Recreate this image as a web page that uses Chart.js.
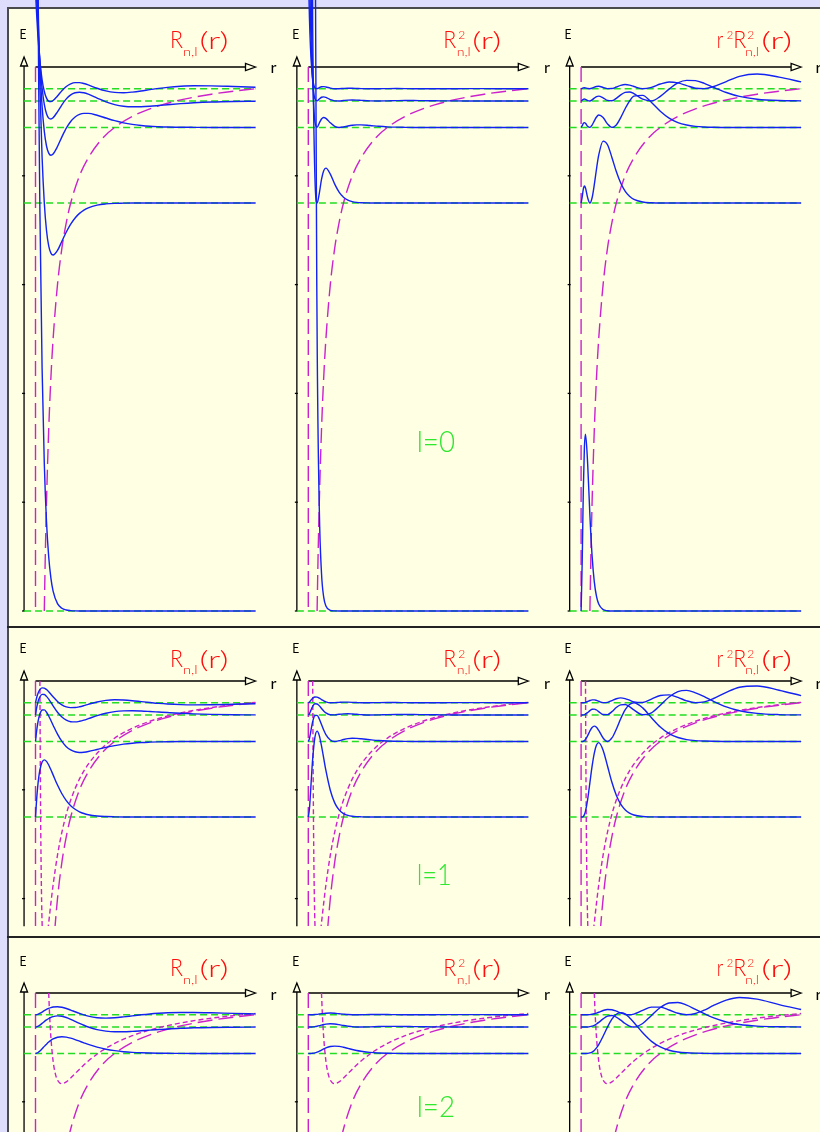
<!DOCTYPE html>
<html>
<head>
<meta charset="utf-8">
<script src="https://cdn.jsdelivr.net/npm/chart.js@4.4.1/dist/chart.umd.min.js"></script>
<style>
  html, body { margin: 0; padding: 0; }
  body { width: 820px; height: 1132px; position: relative; overflow: hidden; background: #dedefc; }
  #sheet { position: absolute; left: 7px; top: 7px; right: 0; bottom: 0; background: #ffffe3;
           border-left: 2px solid #4a4a4a; border-top: 2px solid #4a4a4a; }
  .rule { position: absolute; left: 7px; right: 0; height: 2px; background: #222; }
  canvas { position: absolute; left: 0; }
  svg { position: absolute; left: 0; top: 0; }
  svg text { font-family: Lato, 'DejaVu Sans', sans-serif; font-weight: 400; }
  svg text.thin { font-weight: 300; }
</style>
</head>
<body>
<div id="sheet"></div>
<canvas id="row0"></canvas>
<canvas id="row1"></canvas>
<canvas id="row2"></canvas>
<div class="rule" style="top:626px"></div>
<div class="rule" style="top:936px"></div>
<svg id="labels" width="820" height="1132"></svg>

<script>
// radius samples (Bohr radii), shared by every curve
const rGrid = [0, 0.25, 0.5, 0.75, 1, 1.5, 2, 2.5, 3, 3.5, 4, 5, 6, 7, 8, 9, 10, 11, 12, 14, 16, 18, 20, 22, 24, 26, 28, 30, 33, 36, 40, 45, 50];

// energy levels E_n for n = 1..5
const energyLevels = [-1, -0.25, -0.1111, -0.0625, -0.04];

// l = 0 : R, R^2 and r^2 R^2 (offset from the level)
const psi10 = [2, 1.558, 1.213, 0.945, 0.736, 0.446, 0.271, 0.164, 0.0996, 0.0604, 0.0366, 0.0135, 0.005, 0.0018, 0.0007, 0.0002, 0, 0, 0, 0, 0, 0, 0, 0, 0, 0, 0, 0, 0, 0, 0, 0, 0];
const prob10 = [28, 16.99, 10.3, 6.25, 3.79, 1.392, 0.514, 0.188, 0.0694, 0.0255, 0.0094, 0.0013, 0.0002, 0, 0, 0, 0, 0, 0, 0, 0, 0, 0, 0, 0, 0, 0, 0, 0, 0, 0, 0, 0];
const radial10 = [0, 0.091, 0.2207, 0.3012, 0.3248, 0.2689, 0.1758, 0.1011, 0.0536, 0.0268, 0.0129, 0.0027, 0.0005, 0, 0, 0, 0, 0, 0, 0, 0, 0, 0, 0, 0, 0, 0, 0, 0, 0, 0, 0, 0];

const psi20 = [0.707, 0.546, 0.413, 0.304, 0.2144, 0.0835, 0, -0.0506, -0.0789, -0.0922, -0.0957, -0.0871, -0.0704, -0.0534, -0.0388, -0.0275, -0.0191, -0.013, -0.0088, -0.0039, -0.0017, -0.0007, -0.0003, 0, 0, 0, 0, 0, 0, 0, 0, 0, 0];
const prob20 = [3.5, 2.087, 1.194, 0.647, 0.322, 0.0488, 0, 0.0179, 0.0436, 0.0595, 0.0641, 0.0531, 0.0347, 0.02, 0.0105, 0.0053, 0.0026, 0.0012, 0.0005, 0.0001, 0, 0, 0, 0, 0, 0, 0, 0, 0, 0, 0, 0, 0];
const radial20 = [0, 0.0112, 0.0256, 0.0312, 0.0276, 0.0094, 0, 0.0096, 0.0336, 0.0625, 0.0879, 0.1138, 0.1071, 0.0838, 0.0578, 0.0367, 0.0219, 0.0123, 0.0066, 0.0018, 0.0004, 0, 0, 0, 0, 0, 0, 0, 0, 0, 0, 0, 0];

const psi30 = [0.385, 0.297, 0.223, 0.162, 0.112, 0.0389, -0.0073, -0.0341, -0.0472, -0.0511, -0.0488, -0.035, -0.0174, -0.0014, 0.0109, 0.0192, 0.0239, 0.0258, 0.0258, 0.0224, 0.0173, 0.0124, 0.0085, 0.0056, 0.0036, 0.0022, 0.0014, 0.0008, 0.0004, 0.0002, 0, 0, 0];
const prob30 = [1.037, 0.617, 0.348, 0.184, 0.0878, 0.0106, 0.0004, 0.0081, 0.0156, 0.0183, 0.0167, 0.0086, 0.0021, 0, 0.0008, 0.0026, 0.004, 0.0047, 0.0047, 0.0035, 0.0021, 0.0011, 0.0005, 0.0002, 0, 0, 0, 0, 0, 0, 0, 0, 0];
const radial30 = [0, 0.0033, 0.0075, 0.0089, 0.0075, 0.002, 0.0001, 0.0044, 0.012, 0.0192, 0.0228, 0.0184, 0.0065, 0.0001, 0.0046, 0.0179, 0.0343, 0.0483, 0.0575, 0.059, 0.0459, 0.0299, 0.0172, 0.009, 0.0044, 0.002, 0.0009, 0.0004, 0, 0, 0, 0, 0];

const psi40 = [0.25, 0.1926, 0.1446, 0.1048, 0.072, 0.0238, -0.0063, -0.0234, -0.0314, -0.033, -0.0307, -0.0198, -0.007, 0.0039, 0.0113, 0.0152, 0.0162, 0.0151, 0.0125, 0.0054, -0.0015, -0.0066, -0.0096, -0.0107, -0.0105, -0.0096, -0.0083, -0.0069, -0.0049, -0.0033, -0.0018, -0.0008, -0.0004];
const prob40 = [0.4375, 0.2597, 0.1464, 0.0769, 0.0363, 0.004, 0.0003, 0.0038, 0.0069, 0.0076, 0.0066, 0.0027, 0.0003, 0.0001, 0.0009, 0.0016, 0.0018, 0.0016, 0.0011, 0.0002, 0, 0.0003, 0.0006, 0.0008, 0.0008, 0.0006, 0.0005, 0.0003, 0.0002, 0.0001, 0, 0, 0];
const radial40 = [0, 0.0014, 0.0031, 0.0037, 0.0031, 0.0008, 0.0001, 0.0021, 0.0053, 0.008, 0.009, 0.0059, 0.0011, 0.0004, 0.0049, 0.0112, 0.0157, 0.0166, 0.0135, 0.0034, 0.0003, 0.0085, 0.0219, 0.0333, 0.038, 0.0374, 0.0324, 0.0254, 0.0156, 0.0084, 0.0033, 0.0008, 0.0002];

const psi50 = [0.1789, 0.1378, 0.1034, 0.0748, 0.0512, 0.0166, -0.005, -0.0172, -0.0227, -0.0236, -0.0216, -0.0132, -0.0036, 0.0041, 0.0091, 0.0113, 0.0113, 0.0096, 0.007, 0.0009, -0.004, -0.0067, -0.0072, -0.0061, -0.0041, -0.0016, 0.0007, 0.0026, 0.0045, 0.0054, 0.0053, 0.0042, 0.0029];
const prob50 = [0.224, 0.1329, 0.0748, 0.0392, 0.0183, 0.0019, 0.0002, 0.0021, 0.0036, 0.0039, 0.0033, 0.0012, 0.0001, 0.0001, 0.0006, 0.0009, 0.0009, 0.0006, 0.0003, 0, 0.0001, 0.0003, 0.0004, 0.0003, 0.0001, 0, 0, 0, 0.0001, 0.0002, 0.0002, 0.0001, 0.0001];
const radial50 = [0, 0.0007, 0.0016, 0.0019, 0.0016, 0.0004, 0.0001, 0.0011, 0.0028, 0.0041, 0.0045, 0.0026, 0.0003, 0.0005, 0.0032, 0.0062, 0.0077, 0.0067, 0.0042, 0.0001, 0.0025, 0.0087, 0.0124, 0.0108, 0.0058, 0.001, 0.0002, 0.0037, 0.0132, 0.0227, 0.027, 0.0214, 0.0126];

// l = 1
const psi21 = [0, 0.0315, 0.0557, 0.0736, 0.0867, 0.1012, 0.1051, 0.1023, 0.0956, 0.0869, 0.0774, 0.0587, 0.0427, 0.0302, 0.0209, 0.0143, 0.0096, 0.0064, 0.0042, 0.0018, 0.0008, 0.0003, 0, 0, 0, 0, 0, 0, 0, 0, 0, 0, 0];
const prob21 = [0, 0.0142, 0.0442, 0.0775, 0.1073, 0.1464, 0.1579, 0.1496, 0.1306, 0.108, 0.0855, 0.0492, 0.026, 0.013, 0.0063, 0.0029, 0.0013, 0.0006, 0.0003, 0, 0, 0, 0, 0, 0, 0, 0, 0, 0, 0, 0, 0, 0];
const radial21 = [0, 0.0001, 0.0011, 0.0044, 0.0107, 0.0329, 0.0632, 0.0935, 0.1176, 0.1323, 0.1368, 0.1229, 0.0937, 0.0638, 0.0401, 0.0236, 0.0133, 0.0072, 0.0037, 0.0009, 0.0002, 0, 0, 0, 0, 0, 0, 0, 0, 0, 0, 0, 0];

const psi31 = [0, 0.0187, 0.0329, 0.0433, 0.0506, 0.0578, 0.058, 0.0537, 0.0468, 0.0385, 0.0298, 0.0134, 0, -0.0096, -0.0157, -0.019, -0.0202, -0.0198, -0.0186, -0.0148, -0.0109, -0.0076, -0.005, -0.0032, -0.002, -0.0013, -0.0008, -0.0005, -0.0002, 0, 0, 0, 0];
const prob31 = [0, 0.005, 0.0155, 0.0267, 0.0366, 0.0477, 0.048, 0.0412, 0.0312, 0.0211, 0.0127, 0.0026, 0, 0.0013, 0.0035, 0.0052, 0.0058, 0.0056, 0.0049, 0.0032, 0.0017, 0.0008, 0.0004, 0.0001, 0, 0, 0, 0, 0, 0, 0, 0, 0];
const radial31 = [0, 0, 0.0004, 0.0015, 0.0037, 0.0107, 0.0192, 0.0257, 0.0281, 0.0259, 0.0203, 0.0064, 0, 0.0064, 0.0225, 0.0417, 0.058, 0.0678, 0.0712, 0.0617, 0.0435, 0.0265, 0.0144, 0.0073, 0.0034, 0.0015, 0.0007, 0.0003, 0, 0, 0, 0, 0];

const psi41 = [0, 0.0125, 0.0219, 0.0288, 0.0335, 0.038, 0.0377, 0.0342, 0.0291, 0.023, 0.0167, 0.005, -0.0038, -0.0095, -0.0123, -0.0127, -0.0116, -0.0095, -0.0068, -0.0012, 0.0033, 0.0062, 0.0076, 0.0079, 0.0074, 0.0065, 0.0055, 0.0045, 0.0031, 0.002, 0.0011, 0.0005, 0.0002];
const prob41 = [0, 0.0022, 0.0069, 0.0118, 0.0161, 0.0207, 0.0203, 0.0168, 0.0121, 0.0075, 0.0039, 0.0004, 0.0002, 0.0013, 0.0021, 0.0023, 0.0019, 0.0013, 0.0007, 0, 0.0002, 0.0006, 0.0008, 0.0009, 0.0008, 0.0006, 0.0004, 0.0003, 0.0001, 0, 0, 0, 0];
const radial41 = [0, 0, 0.0002, 0.0007, 0.0016, 0.0046, 0.0081, 0.0105, 0.0108, 0.0092, 0.0063, 0.0009, 0.0007, 0.0062, 0.0137, 0.0187, 0.0192, 0.0153, 0.0094, 0.0004, 0.004, 0.0178, 0.0331, 0.043, 0.0452, 0.0407, 0.0336, 0.0255, 0.0149, 0.0078, 0.0029, 0.0007, 0.0002];

const psi51 = [0, 0.009, 0.0158, 0.0208, 0.0242, 0.0274, 0.027, 0.0243, 0.0203, 0.0157, 0.011, 0.0025, -0.0038, -0.0076, -0.009, -0.0088, -0.0074, -0.0053, -0.0029, 0.0015, 0.0043, 0.0054, 0.005, 0.0038, 0.0021, 0.0004, -0.0012, -0.0024, -0.0035, -0.0039, -0.0037, -0.0028, -0.0019];
const prob51 = [0, 0.0012, 0.0036, 0.0062, 0.0084, 0.0107, 0.0104, 0.0084, 0.0059, 0.0035, 0.0017, 0.0001, 0.0002, 0.0008, 0.0012, 0.0011, 0.0008, 0.0004, 0.0001, 0, 0.0003, 0.0004, 0.0004, 0.0002, 0.0001, 0, 0, 0.0001, 0.0002, 0.0002, 0.0002, 0.0001, 0.0001];
const radial51 = [0, 0, 0.0001, 0.0003, 0.0008, 0.0024, 0.0041, 0.0053, 0.0053, 0.0043, 0.0028, 0.0002, 0.0007, 0.004, 0.0074, 0.009, 0.0077, 0.0048, 0.0017, 0.0006, 0.0068, 0.0134, 0.0145, 0.0099, 0.0035, 0.0001, 0.0016, 0.0074, 0.0191, 0.0285, 0.0309, 0.023, 0.0131];

// l = 2
const psi32 = [0, 0.0004, 0.0013, 0.0028, 0.0045, 0.0086, 0.013, 0.0171, 0.0209, 0.0241, 0.0266, 0.0298, 0.0307, 0.03, 0.0281, 0.0255, 0.0225, 0.0195, 0.0166, 0.0116, 0.0078, 0.0051, 0.0032, 0.002, 0.0012, 0.0007, 0.0004, 0.0003, 0.0001, 0, 0, 0, 0];
const prob32 = [0, 0, 0, 0.0001, 0.0003, 0.0011, 0.0024, 0.0042, 0.0062, 0.0083, 0.0101, 0.0127, 0.0135, 0.0129, 0.0113, 0.0093, 0.0073, 0.0054, 0.004, 0.0019, 0.0009, 0.0004, 0.0001, 0, 0, 0, 0, 0, 0, 0, 0, 0, 0];
const radial32 = [0, 0, 0, 0, 0, 0.0002, 0.001, 0.0026, 0.0056, 0.0101, 0.0162, 0.0317, 0.0486, 0.0631, 0.0721, 0.0748, 0.0728, 0.0656, 0.057, 0.0379, 0.0222, 0.0119, 0.0059, 0.0027, 0.0012, 0.0005, 0.0002, 0, 0, 0, 0, 0, 0];

const psi42 = [0, 0.0003, 0.001, 0.0021, 0.0035, 0.0066, 0.0099, 0.013, 0.0156, 0.0177, 0.0192, 0.0204, 0.0197, 0.0174, 0.0141, 0.0104, 0.0067, 0.0032, 0, -0.0048, -0.0076, -0.0088, -0.0088, -0.0081, -0.007, -0.0058, -0.0047, -0.0036, -0.0025, -0.0015, -0.0008, -0.0004, -0.0001];
const prob42 = [0, 0, 0, 0.0001, 0.0002, 0.0006, 0.0014, 0.0024, 0.0035, 0.0045, 0.0053, 0.006, 0.0055, 0.0043, 0.0028, 0.0016, 0.0006, 0.0001, 0, 0.0003, 0.0008, 0.0011, 0.0011, 0.0009, 0.0007, 0.0005, 0.0003, 0.0002, 0.0001, 0, 0, 0, 0];
const radial42 = [0, 0, 0, 0, 0, 0.0001, 0.0006, 0.0015, 0.0031, 0.0055, 0.0084, 0.0149, 0.0199, 0.0211, 0.0182, 0.0126, 0.0064, 0.0017, 0, 0.0065, 0.0213, 0.0358, 0.0442, 0.0451, 0.0402, 0.0324, 0.0244, 0.0171, 0.0092, 0.0045, 0.0016, 0.0004, 0.0001];

const psi52 = [0, 0.0002, 0.0008, 0.0016, 0.0027, 0.005, 0.0076, 0.0098, 0.0118, 0.0132, 0.0142, 0.0148, 0.0137, 0.0115, 0.0086, 0.0055, 0.0025, -0.0003, -0.0025, -0.0054, -0.0062, -0.0055, -0.0039, -0.002, -0.0001, 0.0015, 0.0027, 0.0036, 0.0041, 0.0041, 0.0036, 0.0025, 0.0017];
const prob52 = [0, 0, 0, 0, 0.0001, 0.0004, 0.0008, 0.0014, 0.002, 0.0025, 0.0029, 0.0031, 0.0027, 0.0019, 0.0011, 0.0004, 0.0001, 0, 0.0001, 0.0004, 0.0005, 0.0004, 0.0002, 0.0001, 0, 0, 0.0001, 0.0002, 0.0002, 0.0002, 0.0002, 0.0001, 0];
const radial52 = [0, 0, 0, 0, 0, 0.0001, 0.0003, 0.0009, 0.0018, 0.0031, 0.0046, 0.0078, 0.0097, 0.0092, 0.0067, 0.0034, 0.0008, 0, 0.0013, 0.008, 0.014, 0.014, 0.0088, 0.0027, 0, 0.0023, 0.0085, 0.0166, 0.0269, 0.0316, 0.0287, 0.0186, 0.0096];

// potentials: Coulomb (long dashes) and effective potential with the l(l+1)/r^2 term (short dashes)
const rCoulomb = [2, 2.2, 2.5, 3, 3.5, 4, 5, 6, 7, 8, 10, 12, 15, 18, 22, 26, 30, 35, 40, 45, 50];
const vCoulomb = [-1, -0.909, -0.8, -0.667, -0.571, -0.5, -0.4, -0.333, -0.286, -0.25, -0.2, -0.167, -0.133, -0.111, -0.0909, -0.0769, -0.0667, -0.0571, -0.05, -0.0444, -0.04];
const rEffL1 = [1, 1.1, 1.2, 1.3, 1.4, 1.5, 1.6, 1.8, 2, 2.3, 2.6, 3, 3.5, 4, 5, 6, 7, 8, 10, 12, 15, 18, 22, 26, 30, 35, 40, 45, 50];
const vEffL1 = [0, -0.1653, -0.2778, -0.3551, -0.4082, -0.4444, -0.4688, -0.4938, -0.5, -0.4915, -0.4734, -0.4444, -0.4082, -0.375, -0.32, -0.2778, -0.2449, -0.2188, -0.18, -0.1528, -0.1244, -0.1049, -0.0868, -0.074, -0.0644, -0.0555, -0.0488, -0.0435, -0.0392];
const rEffL2 = [3, 3.2, 3.5, 4, 4.5, 5, 5.5, 6, 7, 8, 10, 12, 15, 18, 22, 26, 30, 35, 40, 45, 50];
const vEffL2 = [0, -0.0391, -0.0816, -0.125, -0.1481, -0.16, -0.1653, -0.1667, -0.1633, -0.1563, -0.14, -0.125, -0.1067, -0.0926, -0.0785, -0.068, -0.06, -0.0522, -0.0463, -0.0415, -0.0376];

const rowCurves = [
    [[1, psi10, prob10, radial10], [2, psi20, prob20, radial20], [3, psi30, prob30, radial30], [4, psi40, prob40, radial40], [5, psi50, prob50, radial50]],
    [[2, psi21, prob21, radial21], [3, psi31, prob31, radial31], [4, psi41, prob41, radial41], [5, psi51, prob51, radial51]],
    [[3, psi32, prob32, radial32], [4, psi42, prob42, radial42], [5, psi52, prob52, radial52]]
];
const rowEffective = [null, [rEffL1, vEffL1], [rEffL2, vEffL2]];

// layout
const PX_PER_R = 4.4;
const PX_PER_E = 544;
const CANVAS_W = 820;
const COL_R0 = [35.5, 308.3, 581.1];   // pixel of r = 0 in each column
const AXIS_R = -2.6;                    // E axis sits a little left of r = 0
const R_END = 50;
const ROWS = [
    { id: 'row0', top: 0, height: 626, y0: 67, bottomE: -1 },
    { id: 'row1', top: 628, height: 308, y0: 681, bottomE: -0.451 },
    { id: 'row2', top: 938, height: 194, y0: 993, bottomE: -0.2555 }
];

const BLUE = '#1222f2';
const GREEN = '#22dd22';
const MAGENTA = '#cc22cc';
const PAPER = '#ffffe3';

const axesPlugin = {
    id: 'axes',
    beforeDatasetsDraw(chart, args, opts) {
        const ctx = chart.ctx;
        const ys = chart.scales.y;
        const yZero = ys.getPixelForValue(0);
        const yBottom = ys.getPixelForValue(opts.bottomE);
        ctx.save();
        ctx.strokeStyle = '#000';
        ctx.fillStyle = PAPER;
        ctx.lineWidth = 1.3;
        for (let c = 0; c < 3; c++) {
            const xs = chart.scales['x' + c];
            const ax = xs.getPixelForValue(AXIS_R);
            const x0 = xs.getPixelForValue(0);
            const xEnd = xs.getPixelForValue(R_END);

            ctx.beginPath();
            ctx.moveTo(ax, yBottom);
            ctx.lineTo(ax, yZero - 1);
            ctx.stroke();
            ctx.beginPath();
            ctx.moveTo(ax, yZero - 10);
            ctx.lineTo(ax - 3.5, yZero - 1);
            ctx.lineTo(ax + 3.5, yZero - 1);
            ctx.closePath();
            ctx.fill();
            ctx.stroke();

            for (let e = -0.2; e >= opts.bottomE - 1e-6; e -= 0.2) {
                const ty = ys.getPixelForValue(e);
                ctx.beginPath();
                ctx.moveTo(ax - 2, ty);
                ctx.lineTo(ax + 1, ty);
                ctx.stroke();
            }

            ctx.beginPath();
            ctx.moveTo(x0, yZero);
            ctx.lineTo(xEnd - 10, yZero);
            ctx.stroke();
            ctx.beginPath();
            ctx.moveTo(xEnd, yZero);
            ctx.lineTo(xEnd - 10, yZero - 3.5);
            ctx.lineTo(xEnd - 10, yZero + 3.5);
            ctx.closePath();
            ctx.fill();
            ctx.stroke();
        }
        ctx.restore();
    }
};

function curve(points, xAxisID, color, dash, order, extra) {
    return Object.assign({
        data: points,
        xAxisID: xAxisID,
        yAxisID: 'y',
        showLine: true,
        borderColor: color,
        borderWidth: 1.4,
        borderDash: dash,
        pointRadius: 0,
        order: order,
        cubicInterpolationMode: 'monotone'
    }, extra || {});
}

ROWS.forEach((row, ri) => {
    const canvas = document.getElementById(row.id);
    canvas.width = CANVAS_W;
    canvas.height = row.height;
    canvas.style.top = row.top + 'px';

    const yMax = (row.y0 - row.top) / PX_PER_E;
    const yMin = -(row.top + row.height - row.y0) / PX_PER_E;
    const potClip = { left: false, top: false, right: false, bottom: -Math.round((row.bottomE - yMin) * PX_PER_E) };

    const scales = { y: { type: 'linear', display: false, min: yMin, max: yMax } };
    const datasets = [];

    COL_R0.forEach((r0, c) => {
        const xid = 'x' + c;
        scales[xid] = { type: 'linear', axis: 'x', display: false, min: -r0 / PX_PER_R, max: (CANVAS_W - r0) / PX_PER_R };

        rowCurves[ri].forEach(entry => {
            const level = energyLevels[entry[0] - 1];
            const values = entry[c + 1];
            datasets.push(curve([{ x: AXIS_R, y: level }, { x: R_END, y: level }], xid, GREEN, [7, 4], 2,
                { cubicInterpolationMode: 'default', tension: 0 }));
            datasets.push(curve(rGrid.map((r, i) => ({ x: r, y: level + values[i] })), xid, BLUE, [], 0));
        });

        datasets.push(curve([{ x: 0, y: 0 }, { x: 0, y: row.bottomE }], xid, MAGENTA, [15, 6], 1,
            { clip: potClip, cubicInterpolationMode: 'default', tension: 0 }));
        datasets.push(curve(rCoulomb.map((r, i) => ({ x: r, y: vCoulomb[i] })), xid, MAGENTA, [15, 6], 1, { clip: potClip }));
        const eff = rowEffective[ri];
        if (eff) {
            datasets.push(curve(eff[0].map((r, i) => ({ x: r, y: eff[1][i] })), xid, MAGENTA, [5, 3], 1, { clip: potClip }));
        }
    });

    new Chart(canvas, {
        type: 'scatter',
        data: { datasets: datasets },
        options: {
            responsive: false,
            animation: false,
            events: [],
            layout: { padding: 0 },
            plugins: {
                legend: { display: false },
                tooltip: { enabled: false },
                axes: { bottomE: row.bottomE }
            },
            scales: scales
        },
        plugins: [axesPlugin]
    });
});

// text labels
const svg = document.getElementById('labels');
function addText(str, x, y, size, color, width, cls) {
    const t = document.createElementNS('http://www.w3.org/2000/svg', 'text');
    t.setAttribute('x', x);
    t.setAttribute('y', y);
    t.setAttribute('font-size', size);
    t.setAttribute('fill', color);
    if (width) {
        t.setAttribute('textLength', width);
        t.setAttribute('lengthAdjust', 'spacingAndGlyphs');
    }
    if (cls) t.setAttribute('class', cls);
    t.textContent = str;
    svg.appendChild(t);
}

const TITLE_X = [170, 443.3, 716.7];
const TITLE_BASE = [48.3, 667, 976.3];
const E_X = [19.5, 292.2, 564.5];
const E_BASE = [38.5, 653.2, 965.5];
const R_X = [270.5, 544, 815.5];
const R_BASE = [72.7, 688.7, 1000.3];
const L_BASE = [452.3, 884.7, 1117];
const L_WIDTH = [38.3, 35, 38.3];

// [text, dx, dy, size, width]
const TITLE_PIECES = [
    [['R', 0, 0, 24, 13], ['n,l', 12.7, 7.4, 12.5, 15], ['(r)', 29.5, 0.5, 24, 29]],
    [['R', 0, 0, 24, 13], ['2', 15, -9.5, 12.5, 7], ['n,l', 13.4, 7.4, 12.5, 14], ['(r)', 29, 0.5, 24, 29]],
    [['r', 0, 0, 24, 6.5], ['2', 10, -9.5, 12.5, 6.5], ['R', 16.6, 0, 24, 13], ['2', 30.6, -9.5, 12.5, 7], ['n,l', 28.3, 7.4, 12.5, 14], ['(r)', 44.5, 0.5, 24, 31]]
];

for (let ri = 0; ri < 3; ri++) {
    for (let c = 0; c < 3; c++) {
        addText('E', E_X[c], E_BASE[ri], 13, '#000', 7);
        addText('r', R_X[c], R_BASE[ri], 15, '#000', 6);
        TITLE_PIECES[c].forEach(p => addText(p[0], TITLE_X[c] + p[1], TITLE_BASE[ri] + p[2], p[3], '#ff0d0d', p[4], 'thin'));
    }
    addText('l=' + ri, 416.7, L_BASE[ri], 28.5, '#2ee82e', L_WIDTH[ri], 'thin');
}
</script>
</body>
</html>
